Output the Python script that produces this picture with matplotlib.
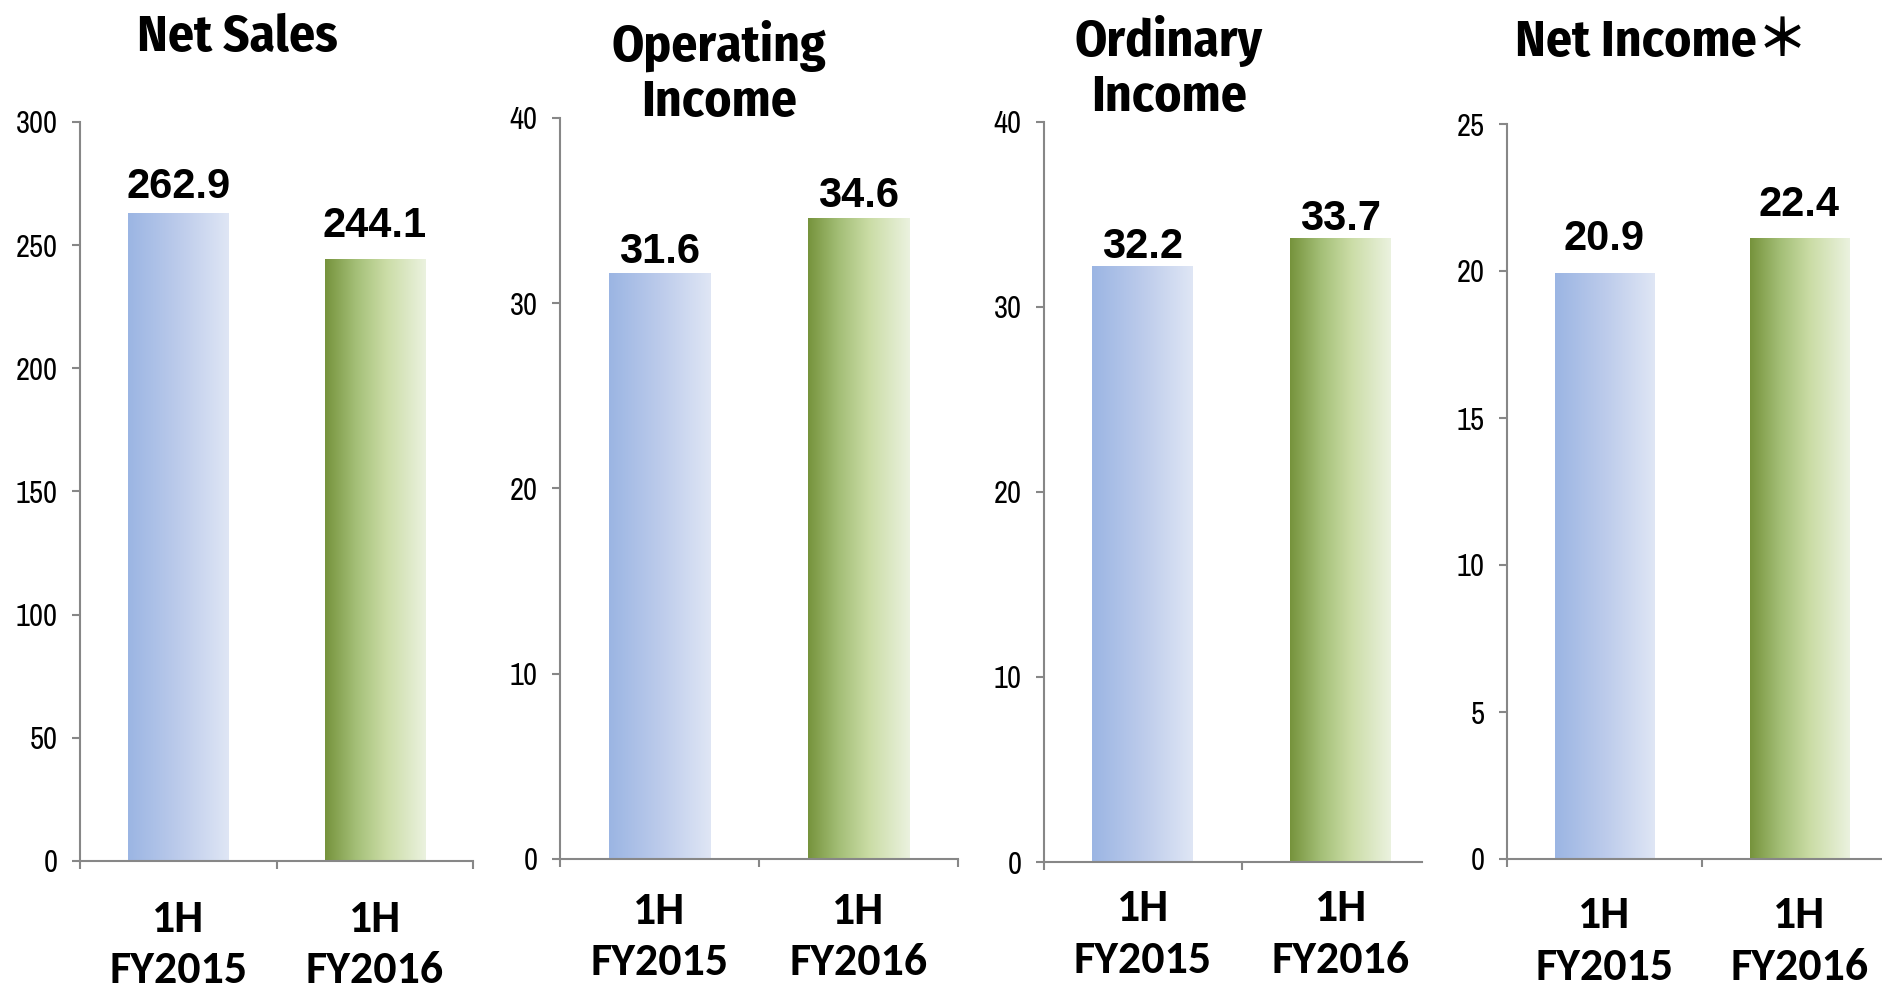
import numpy as np
import matplotlib.pyplot as plt
from matplotlib.colors import LinearSegmentedColormap

# data
categories = ['1H\nFY2015', '1H\nFY2016']
titles = ['Net Sales', 'Operating\nIncome', 'Ordinary\nIncome', 'Net Income＊']
net_sales = [262.9, 244.1]
operating_income = [31.6, 34.6]
ordinary_income = [32.2, 33.7]
net_income = [19.9, 21.1]            # bar heights as drawn in the source
net_income_labels = ['20.9', '22.4']  # printed values
y_max = [300, 40, 40, 25]
y_step = [50, 10, 10, 5]

W, H = 1883, 990
fig = plt.figure(figsize=(W / 100, H / 100), dpi=100)

blue = LinearSegmentedColormap.from_list('b', ['#9bb5e3', '#bccbeb', '#dfe6f5'])
green = LinearSegmentedColormap.from_list('g', [(0, '#76933c'), (0.3, '#a3be76'),
                                                (0.6, '#cadca5'), (1, '#ebf2df')])
cmaps = [blue, green]

# pixel boxes: x0, x1, ytop, ybottom
boxes = [(80, 473, 122, 861), (560, 958, 118, 859),
         (1044, 1422, 122, 862), (1507, 1897, 124, 859)]
xright = [1.5, 1.5, 1.41, 1.5]
title_pos = [(237, 13), (719, 20), (1169, 15), (1662, 18)]
label_gap = [[15, 23], [11, 11], [8, 9], [24, 23]]  # px between bar top and label baseline
cat_pad = [27, 23, 19, 26]

values = [net_sales, operating_income, ordinary_income, net_income]
labels = [['%.1f' % v for v in net_sales],
          ['%.1f' % v for v in operating_income],
          ['%.1f' % v for v in ordinary_income],
          net_income_labels]

tick_font = ['Archivo Narrow', 'Liberation Sans', 'DejaVu Sans']
title_font = ['Fira Sans Condensed', 'Liberation Sans', 'Noto Sans CJK JP']
cat_font = ['Carlito', 'Open Sans', 'DejaVu Sans']
grey = '#878787'

for i in range(4):
    x0, x1, yt, yb = boxes[i]
    ax = fig.add_axes([x0 / W, (H - yb) / H, (x1 - x0) / W, (yb - yt) / H])
    xs = np.arange(len(categories))
    bars = ax.bar(xs, values[i], width=0.51, color='none', zorder=1)
    grad = np.linspace(0, 1, 256).reshape(1, -1)
    for j, b in enumerate(bars):
        ax.imshow(grad, extent=[b.get_x(), b.get_x() + b.get_width(), 0, b.get_height()],
                  aspect='auto', cmap=cmaps[j], zorder=2, interpolation='bilinear')
        ax.annotate(labels[i][j], (b.get_x() + b.get_width() / 2, b.get_height()),
                    xytext=(0, label_gap[i][j] * 0.72), textcoords='offset points',
                    ha='center', va='baseline', fontsize=30, fontweight='bold',
                    family=['Liberation Sans', 'DejaVu Sans'], zorder=3)
    ax.set_xlim(-0.5, xright[i])
    ax.set_ylim(0, y_max[i])
    ax.set_yticks(np.arange(0, y_max[i] + 1, y_step[i]))
    ax.set_yticklabels([str(int(t)) for t in ax.get_yticks()], family=tick_font, fontsize=22)
    ax.tick_params(axis='y', direction='out', length=6, width=1.5, color=grey, pad=10)

    major = [-0.5, 0.5, 1.5] if xright[i] >= 1.5 else [-0.5, 0.5]
    ax.set_xticks(major)
    ax.set_xticklabels([])
    ax.tick_params(axis='x', which='major', direction='out', length=6, width=1.5, color=grey)
    ax.set_xticks(xs, minor=True)
    ax.set_xticklabels(categories, minor=True, family=cat_font, fontweight='bold',
                       fontsize=33, linespacing=1.35)
    ax.tick_params(axis='x', which='minor', length=0, pad=cat_pad[i])

    for s in ['top', 'right']:
        ax.spines[s].set_visible(False)
    for s in ['left', 'bottom']:
        ax.spines[s].set_color(grey)
        ax.spines[s].set_linewidth(1.5)

    tx, ty = title_pos[i]
    fig.text(tx / W, 1 - ty / H, titles[i], ha='center', va='top', fontsize=37,
             fontweight='bold', family=title_font, linespacing=1.15)

fig.savefig('out.png', dpi=100)
